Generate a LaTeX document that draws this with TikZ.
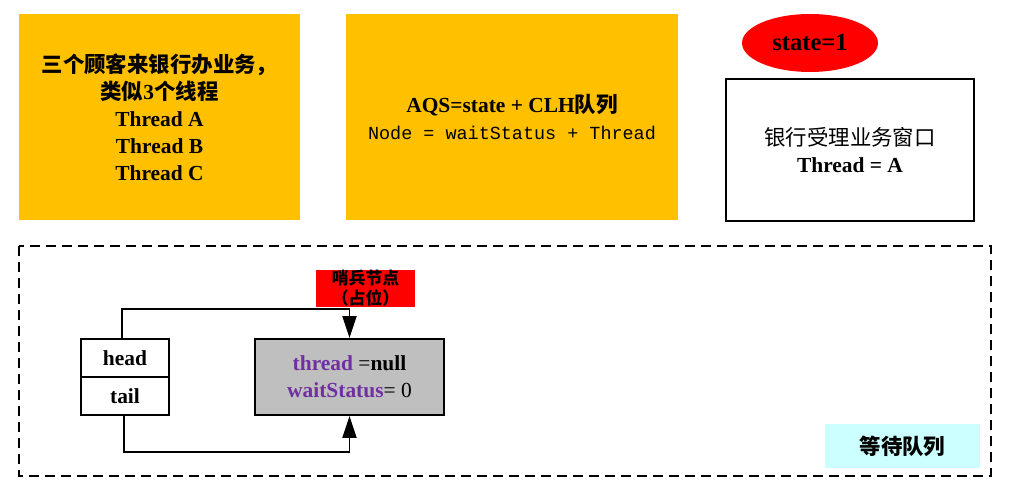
\documentclass[tikz,border=0pt]{standalone}
\usepackage{fontspec}
\setmainfont{Liberation Serif}
\setmonofont{Liberation Mono}
\newfontfamily\cjk{Noto Sans CJK SC}
\usetikzlibrary{arrows.meta,shapes.geometric}
\definecolor{boxorange}{HTML}{FFC000}
\definecolor{fieldpurple}{HTML}{7030A0}
\definecolor{nodegray}{HTML}{BFBFBF}
\definecolor{queuecyan}{HTML}{CCFFFF}
\newcommand\mainsize{\fontsize{12.2}{15.4}\selectfont}
\tikzset{
	infobox/.style={fill=boxorange, minimum width=#1, minimum height=4.12cm, align=center, inner sep=0pt, font=\mainsize},
	cell/.style={draw, line width=1.1pt, minimum width=1.76cm, minimum height=0.76cm, inner sep=0pt, font=\mainsize\bfseries},
	link/.style={line width=1.1pt, -{Triangle[length=0.44cm,width=0.28cm]}}
}

\begin{document}
\begin{tikzpicture}[x=0.02cm, y=-0.02cm]
	%%%%% START %%%%%
	\useasboundingbox (0, 0) rectangle (1009, 496);
	
	\node[infobox=5.62cm] (customers) at (159.5, 117) {{\cjk\bfseries 三个顾客来银行办业务，}\\{\cjk\bfseries 类似}\textbf{3}{\cjk\bfseries 个线程}\\\textbf{Thread A}\\\textbf{Thread B}\\\textbf{Thread C}};
	\node[infobox=6.64cm] (aqs) at (512, 117) {\textbf{AQS=state + CLH{\cjk 队列}}\\{\ttfamily\fontsize{10.5}{15.4}\selectfont Node = waitStatus + Thread}};
	
	\node[ellipse, fill=red, minimum width=2.72cm, minimum height=1.16cm, inner sep=0pt, font=\fontsize{14}{16}\selectfont\bfseries] (state) at (810, 43) {state=1};
	\node[draw, line width=1.1pt, minimum width=4.96cm, minimum height=2.84cm, align=center, font=\mainsize] (window) at (850, 150) {{\cjk 银行受理业务窗口}\\\textbf{Thread = A}};
	
	\draw[line width=0.6pt, dash pattern=on 0.2cm off 0.12cm] (19, 246) rectangle (991, 476);
	
	\node[fill=red, minimum width=1.98cm, minimum height=0.74cm, inner sep=0pt, align=center, font=\fontsize{9.6}{11.4}\selectfont\cjk\bfseries] (sentinellabel) at (365.5, 288.5) {哨兵节点\\（占位）};
	
	\node[cell] (head) at (125, 358) {head};
	\node[cell] (tail) at (125, 396) {tail};
	
	\node[draw, line width=1.1pt, fill=nodegray, minimum width=3.78cm, minimum height=1.52cm, align=center, font=\mainsize] (sentinel) at (349.5, 377) {{\bfseries\color{fieldpurple}thread} =\textbf{null}\\{\bfseries\color{fieldpurple}waitStatus}= 0};
	
	\draw[link] ([xshift=-0.06cm]head.north) -- ++(0, -29) -| (sentinel.north);
	\draw[link] ([xshift=-0.02cm]tail.south) -- ++(0, 36) -| (sentinel.south);
	
	\node[fill=queuecyan, minimum width=3.1cm, minimum height=0.88cm, inner sep=0pt, font=\mainsize\cjk\bfseries] (waitqueue) at (902.5, 446) {等待队列};
	%%%%% END %%%%%
\end{tikzpicture}
\end{document}
